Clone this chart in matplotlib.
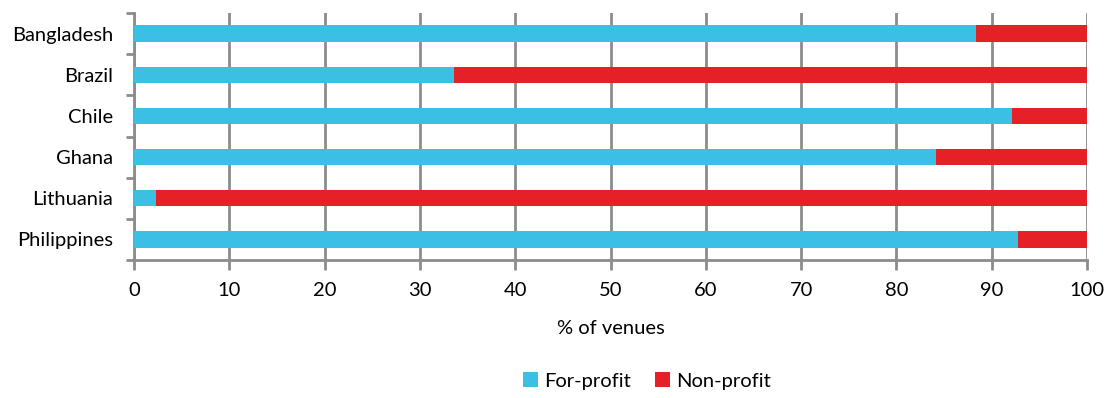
import matplotlib
matplotlib.use("Agg")
import matplotlib.pyplot as plt
import numpy as np

countries = ["Bangladesh", "Brazil", "Chile", "Ghana", "Lithuania", "Philippines"]
for_profit = [88.4, 33.6, 92.1, 84.2, 2.3, 92.8]
non_profit = [100 - v for v in for_profit]
x_ticks = list(range(0, 101, 10))

BLUE = "#3BBFE2"
RED = "#E62027"
GREY = "#8C8C8C"

plt.rcParams["font.family"] = ["Lato", "DejaVu Sans"]
FS = 14.5

fig = plt.figure(figsize=(11.06, 3.98), dpi=100)
ax = fig.add_axes([0.1212, 0.3467, 0.8616, 0.6206])

y = np.arange(len(countries))
ax.barh(y, for_profit, height=0.4, color=BLUE, label="For-profit", zorder=3)
ax.barh(y, non_profit, left=for_profit, height=0.4, color=RED, label="Non-profit", zorder=3)

ax.set_xlim(0, 100)
ax.set_ylim(len(countries) - 0.5, -0.5)
ax.set_xticks(x_ticks)
ax.set_xticklabels([str(t) for t in x_ticks], fontsize=FS)
ax.set_yticks(y)
ax.set_yticklabels(countries, fontsize=FS)
ax.set_yticks(np.arange(-0.5, len(countries)), minor=True)
ax.tick_params(axis="y", which="major", length=0, pad=15)
ax.tick_params(axis="y", which="minor", length=6, width=2, color=GREY)
ax.tick_params(axis="x", length=7, width=2, color=GREY, pad=9)

ax.grid(axis="x", color=GREY, linewidth=2, zorder=0)
for side in ["top", "right"]:
    ax.spines[side].set_visible(False)
for side in ["left", "bottom"]:
    ax.spines[side].set_color(GREY)
    ax.spines[side].set_linewidth(2)

ax.set_xlabel("% of venues", fontsize=FS, labelpad=15)

fig.legend(loc="lower center", bbox_to_anchor=(0.585, -0.025), ncol=2, frameon=False,
           fontsize=FS, handlelength=0.75, handleheight=0.75, handletextpad=0.3,
           columnspacing=1.2)

fig.savefig("out.png", dpi=100)
